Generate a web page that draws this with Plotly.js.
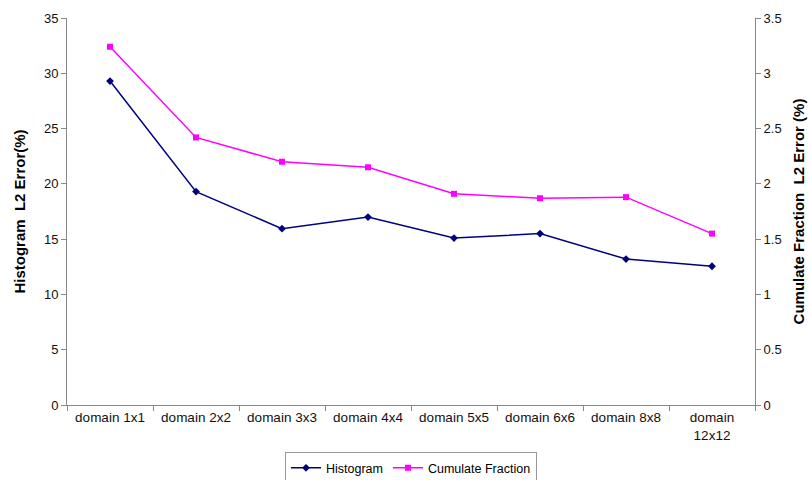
<!DOCTYPE html>
<html>
<head>
<meta charset="utf-8">
<script src="https://cdn.plot.ly/plotly-3.0.1.min.js"></script>
<style>html,body{margin:0;padding:0;background:#fff;}#chart{width:809px;height:480px;}</style>
</head>
<body>
<div id="chart"></div>
<script>
const categories = ["domain 1x1","domain 2x2","domain 3x3","domain 4x4","domain 5x5","domain 6x6","domain 8x8","domain<br>12x12"];
const histogram = [29.3, 19.3, 15.95, 17.0, 15.1, 15.5, 13.2, 12.55];
const cumulative = [3.24, 2.42, 2.20, 2.15, 1.91, 1.87, 1.88, 1.55];
const leftTicks = [0,5,10,15,20,25,30,35];
const rightTicks = [0,0.5,1,1.5,2,2.5,3,3.5];

const font = {family: "Liberation Sans, Arial, sans-serif", size: 12, color: "#000"};
const traces = [
  {x: categories, y: histogram, name: "Histogram", type: "scatter", mode: "lines+markers",
   line: {color: "#000080", width: 1.5}, marker: {symbol: "diamond", size: 6, color: "#000080"}, yaxis: "y"},
  {x: categories, y: cumulative, name: "Cumulate Fraction", type: "scatter", mode: "lines+markers",
   line: {color: "#FF00FF", width: 1.5}, marker: {symbol: "square", size: 6, color: "#FF00FF"}, yaxis: "y2"}
];
const layout = {
  width: 809, height: 480,
  margin: {l: 67, r: 54, t: 18, b: 75, autoexpand: false},
  paper_bgcolor: "#fff", plot_bgcolor: "#fff",
  font: font,
  showlegend: true,
  legend: {orientation: "h", x: 0.5, xanchor: "center", y: -0.122, yanchor: "top",
           bordercolor: "#999", borderwidth: 1, font: {family: font.family, size: 12.5, color: "#000"},
           itemwidth: 30, tracegroupgap: 0},
  xaxis: {type: "category", range: [-0.5, 7.5], showgrid: false, zeroline: false, automargin: false,
          showline: true, linecolor: "#888", linewidth: 1, ticks: "outside", tickson: "boundaries",
          ticklen: 5, tickcolor: "#888", tickfont: {family: font.family, size: 13.5, color: "#111"}},
  yaxis: {range: [0, 35], tickvals: leftTicks, showgrid: false, zeroline: false, automargin: false,
          showline: true, linecolor: "#888", linewidth: 1, ticks: "outside", ticklen: 5, tickcolor: "#888",
          tickfont: {family: font.family, size: 13, color: "#111"},
          title: {text: "<b>Histogram  L2 Error(%)</b>", font: {family: font.family, size: 15, color: "#000"}, standoff: 14}},
  yaxis2: {range: [0, 3.5], tickvals: rightTicks, overlaying: "y", side: "right", showgrid: false, zeroline: false, automargin: false,
          showline: true, linecolor: "#888", linewidth: 1, ticks: "outside", ticklen: 5, tickcolor: "#888",
          tickfont: {family: font.family, size: 13, color: "#111"},
          title: {text: "<b>Cumulate Fraction  L2 Error (%)</b>", font: {family: font.family, size: 15, color: "#000"}, standoff: 12}}
};
Plotly.newPlot("chart", traces, layout, {displayModeBar: false, staticPlot: true});
</script>
</body>
</html>
